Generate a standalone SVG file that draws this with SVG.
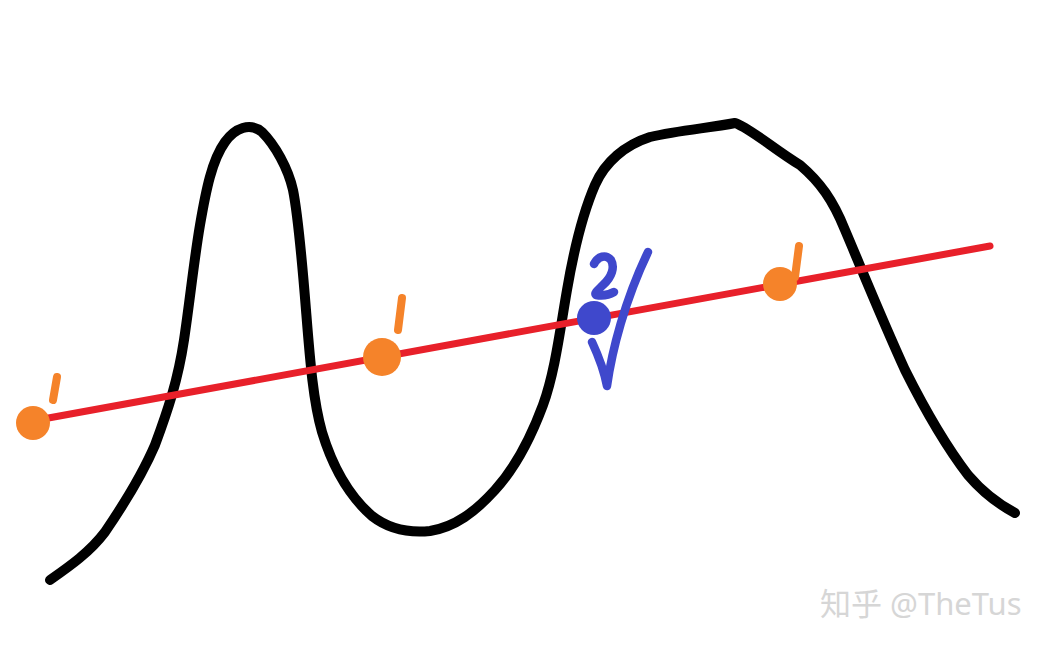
<svg xmlns="http://www.w3.org/2000/svg" width="1054" height="649" viewBox="0 0 1054 649">
<style>
.curve{fill:none;stroke:#000;stroke-width:10;stroke-linecap:round;stroke-linejoin:round}
.red{stroke:#e8202a;stroke-width:7;stroke-linecap:round}
.orange{fill:#f5832a}
.tick{fill:none;stroke:#f5832a;stroke-width:8;stroke-linecap:round}
.blue{fill:#3f48cc}
.bstroke{fill:none;stroke:#3f48cc;stroke-width:8.5;stroke-linecap:round;stroke-linejoin:round}
.wm{font-family:"Noto Sans","Noto Sans CJK SC",sans-serif;font-size:31px;fill:#d6d6d6}
</style>
<rect width="1054" height="649" fill="#fff"/>
<path class="curve" d="M50,580 C70,566 90,552 105,532 C120,510 140,480 155,445 C168,410 178,380 184,340 C190,300 194,260 200,225 C206,190 212,160 225,142 C235,128 250,122 262,132 C275,145 288,168 293,190 C298,215 302,260 306,310 C310,360 313,400 322,432 C332,465 348,495 372,516 C390,530 410,533 430,531 C455,527 475,512 495,490 C515,468 530,440 543,405 C555,372 560,330 567,290 C573,255 582,215 595,185 C605,162 625,145 650,137 C680,130 710,128 735,123 C750,128 775,150 800,165 C820,182 833,200 845,230 C862,270 880,315 905,370 C925,410 945,445 968,475 C985,495 1000,505 1015,513"/>
<g id="line"><line class="red" x1="32" y1="421" x2="990" y2="246"/></g>
<g id="point1">
<circle class="orange" cx="33" cy="423" r="17"/>
<path class="tick" d="M57,377 L53,400"/>
</g>
<g id="point2">
<circle class="orange" cx="382" cy="357" r="19"/>
<path class="tick" d="M402,298 L398,330"/>
</g>
<g id="point3">
<circle class="orange" cx="780" cy="284" r="17"/>
<path class="tick" d="M799,246 L795,277"/>
</g>
<g id="point4">
<circle class="blue" cx="594" cy="318" r="17"/>
<path class="bstroke" d="M594,264 C598,256 606,254 611,260 C615,267 612,277 603,285 C598,290 594,293 596,295 C602,296 609,295 614,292"/>
<path class="bstroke" d="M592,342 C598,355 604,370 607,386 C612,350 625,300 648,252"/>
</g>
<text class="wm" x="820" y="615">知乎 @TheTus</text>
</svg>
